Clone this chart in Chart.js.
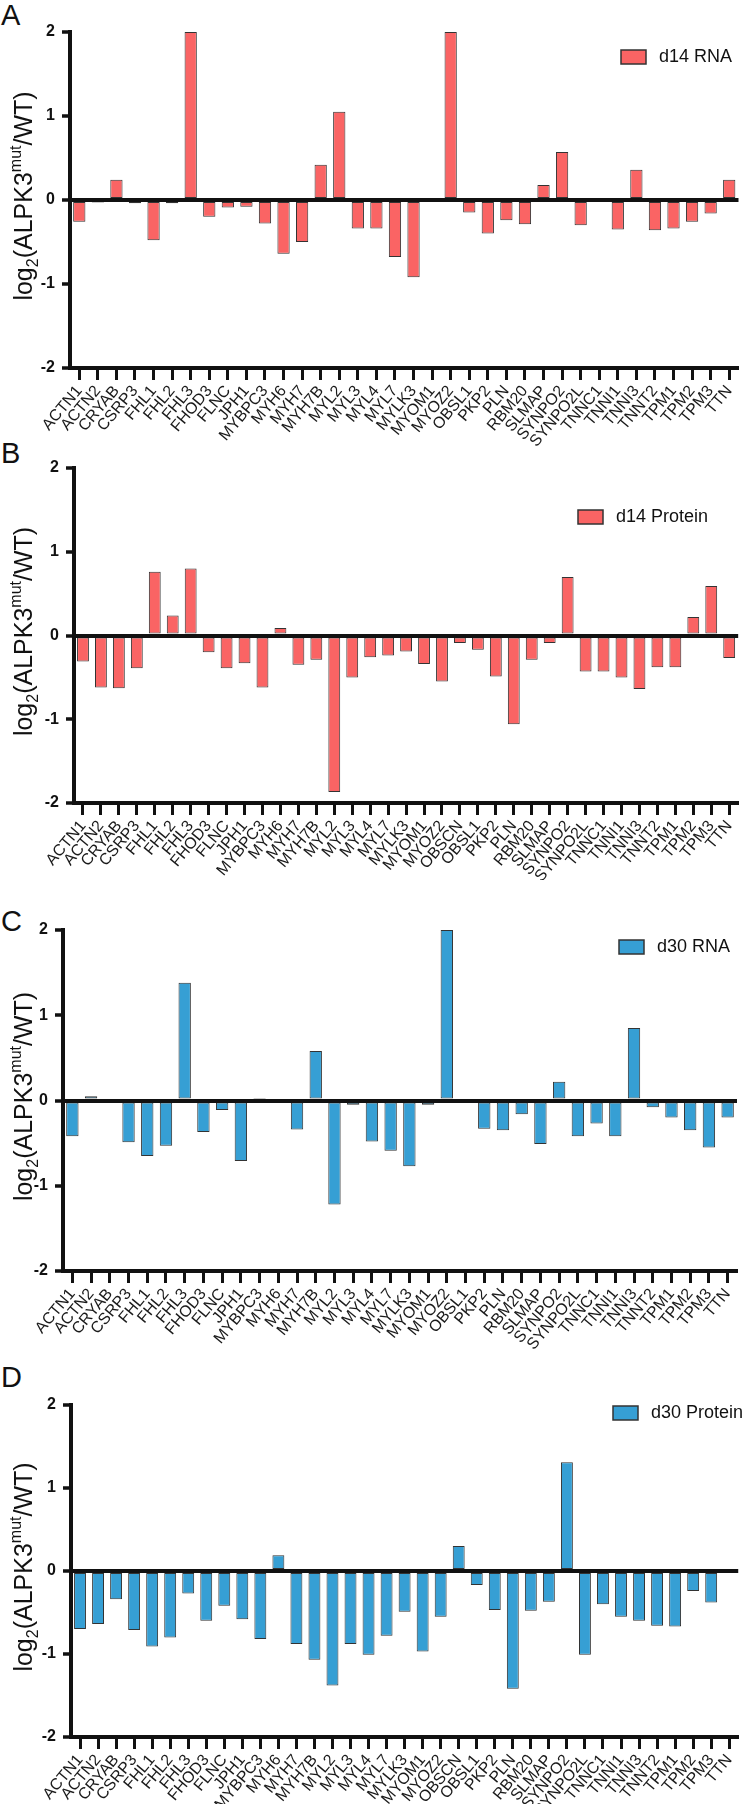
<!DOCTYPE html>
<html>
<head>
<meta charset="utf-8">
<script src="https://cdn.jsdelivr.net/npm/chart.js@4/dist/chart.umd.min.js"></script>
<style>
  body { margin: 0; background: #fff; width: 746px; height: 1804px; position: relative; overflow: hidden; font-family: "Liberation Sans", Arial, sans-serif; }
  canvas { position: absolute; left: 0; }
  .tag { position: absolute; left: 1px; font-size: 29px; line-height: 1; color: #111; }
</style>
</head>
<body>
<div class="tag" style="top:1px">A</div>
<div class="tag" style="top:439px">B</div>
<div class="tag" style="top:907px">C</div>
<div class="tag" style="top:1363px">D</div>
<canvas id="chartA" width="746" height="460" style="top:0px"></canvas>
<canvas id="chartB" width="746" height="440" style="top:440px"></canvas>
<canvas id="chartC" width="746" height="460" style="top:890px"></canvas>
<canvas id="chartD" width="746" height="434" style="top:1370px"></canvas>
<script>
// gene lists (RNA panels have no OBSCN)
const genesRna = ["ACTN1", "ACTN2", "CRYAB", "CSRP3", "FHL1", "FHL2", "FHL3", "FHOD3", "FLNC", "JPH1",
  "MYBPC3", "MYH6", "MYH7", "MYH7B", "MYL2", "MYL3", "MYL4", "MYL7", "MYLK3", "MYOM1", "MYOZ2",
  "OBSL1", "PKP2", "PLN", "RBM20", "SLMAP", "SYNPO2", "SYNPO2L", "TNNC1", "TNNI1", "TNNI3",
  "TNNT2", "TPM1", "TPM2", "TPM3", "TTN"];
const genesProtein = ["ACTN1", "ACTN2", "CRYAB", "CSRP3", "FHL1", "FHL2", "FHL3", "FHOD3", "FLNC", "JPH1",
  "MYBPC3", "MYH6", "MYH7", "MYH7B", "MYL2", "MYL3", "MYL4", "MYL7", "MYLK3", "MYOM1", "MYOZ2",
  "OBSCN", "OBSL1", "PKP2", "PLN", "RBM20", "SLMAP", "SYNPO2", "SYNPO2L", "TNNC1", "TNNI1", "TNNI3",
  "TNNT2", "TPM1", "TPM2", "TPM3", "TTN"];

const d14Rna = [-0.26, -0.03, 0.24, -0.04, -0.48, -0.04, 2, -0.20, -0.09, -0.08,
  -0.28, -0.64, -0.50, 0.42, 1.05, -0.34, -0.34, -0.68, -0.92, 0, 2,
  -0.15, -0.40, -0.24, -0.29, 0.18, 0.57, -0.30, 0, -0.35, 0.36,
  -0.36, -0.34, -0.26, -0.16, 0.24];
const d14Protein = [-0.31, -0.62, -0.63, -0.39, 0.76, 0.24, 0.80, -0.20, -0.39, -0.33,
  -0.62, 0.09, -0.35, -0.29, -1.87, -0.50, -0.26, -0.24, -0.19, -0.34, -0.55,
  -0.09, -0.17, -0.49, -1.06, -0.29, -0.09, 0.70, -0.43, -0.43, -0.50, -0.64,
  -0.38, -0.38, 0.22, 0.59, -0.27];
const d30Rna = [-0.42, 0.05, 0, -0.49, -0.65, -0.53, 1.38, -0.37, -0.11, -0.71,
  0.03, 0, -0.34, 0.58, -1.22, -0.05, -0.48, -0.59, -0.77, -0.05, 2,
  -0.03, -0.33, -0.35, -0.16, -0.51, 0.22, -0.42, -0.27, -0.42, 0.85,
  -0.08, -0.20, -0.35, -0.55, -0.20];
const d30Protein = [-0.70, -0.64, -0.34, -0.71, -0.91, -0.80, -0.27, -0.60, -0.42, -0.58,
  -0.82, 0.19, -0.88, -1.07, -1.38, -0.88, -1.01, -0.78, -0.49, -0.97, -0.55,
  0.30, -0.17, -0.47, -1.42, -0.48, -0.37, 1.31, -1.01, -0.40, -0.55, -0.60,
  -0.66, -0.67, -0.24, -0.38, -0.02];

const yMin = -2, yMax = 2;
const RED = "rgb(250,100,100)";
const BLUE = "rgb(54,159,212)";
const FONT = '"Liberation Sans", Arial, sans-serif';

// little legend box drawn inside the plot, like Prism does
const boxLegend = {
  id: "boxLegend",
  afterDraw(chart, args, opts) {
    const ctx = chart.ctx;
    const ds = chart.data.datasets[0];
    ctx.save();
    ctx.fillStyle = ds.backgroundColor;
    ctx.fillRect(opts.x, opts.y, 25, 14);
    ctx.strokeStyle = "#333";
    ctx.lineWidth = 1.5;
    ctx.strokeRect(opts.x, opts.y, 25, 14);
    ctx.fillStyle = "#111";
    ctx.font = "18px " + FONT;
    ctx.textBaseline = "middle";
    ctx.fillText(ds.label, opts.x + 38, opts.y + 7.5);
    ctx.restore();
  }
};

// y title with subscript 2 and superscript mut
const yTitle = {
  id: "yTitle",
  afterDraw(chart, args, opts) {
    const ctx = chart.ctx;
    const area = chart.chartArea;
    const parts = [
      { t: "log", s: 25, dy: 0 },
      { t: "2", s: 16, dy: 6 },
      { t: "(ALPK3", s: 25, dy: 0 },
      { t: "mut", s: 16, dy: -11 },
      { t: "/WT)", s: 25, dy: 0 }
    ];
    ctx.save();
    ctx.fillStyle = "#111";
    let total = 0;
    parts.forEach(p => {
      ctx.font = p.s + "px " + FONT;
      p.w = ctx.measureText(p.t).width;
      total += p.w;
    });
    ctx.translate(opts.x, (area.top + area.bottom) / 2 + opts.dy);
    ctx.rotate(-Math.PI / 2);
    let x = -total / 2;
    parts.forEach(p => {
      ctx.font = p.s + "px " + FONT;
      ctx.fillText(p.t, x, 8 + p.dy);
      x += p.w;
    });
    ctx.restore();
  }
};

function makeChart(id, labels, values, name, color, box) {
  const xHeight = box.canvasH - (box.bottom - box.canvasTop);
  return new Chart(document.getElementById(id), {
    type: "bar",
    data: {
      labels: labels,
      datasets: [{
        label: name,
        data: values,
        backgroundColor: color,
        borderColor: "#333",
        borderWidth: 1,
        borderSkipped: false,
        barPercentage: 0.66,
        categoryPercentage: 1
      }]
    },
    options: {
      responsive: false,
      animation: false,
      events: [],
      layout: {
        padding: { top: box.top - box.canvasTop, left: 0, right: 746 - box.right, bottom: 0 }
      },
      plugins: {
        legend: { display: false },
        tooltip: { enabled: false },
        boxLegend: { x: box.legendX, y: box.legendY - box.canvasTop },
        yTitle: { x: 24, dy: -4 }
      },
      scales: {
        x: {
          offset: true,
          grid: { offset: false, drawOnChartArea: false, tickLength: 12, tickWidth: 3, tickColor: "#111" },
          border: { color: "#111", width: 4 },
          ticks: {
            autoSkip: false, minRotation: 50, maxRotation: 50, padding: 2,
            color: "#1a1a1a", font: { family: FONT, size: 16 }
          },
          afterFit: s => { s.height = xHeight; }
        },
        y: {
          min: yMin,
          max: yMax,
          grid: {
            z: 1,
            color: c => c.tick && c.tick.value === 0 ? "#111" : "rgba(0,0,0,0)",
            lineWidth: 4,
            tickColor: "#111", tickLength: 8, tickWidth: 3.5
          },
          border: { color: "#111", width: 4, z: 1 },
          ticks: {
            stepSize: 1, padding: 7, color: "#111",
            font: { family: FONT, size: 16, weight: "bold" }
          },
          afterFit: s => { s.width = box.left; }
        }
      }
    },
    plugins: [boxLegend, yTitle]
  });
}

makeChart("chartA", genesRna, d14Rna, "d14 RNA", RED,
  { canvasTop: 0, canvasH: 460, top: 32, bottom: 368, left: 70, right: 741, legendX: 621, legendY: 50 });
makeChart("chartB", genesProtein, d14Protein, "d14 Protein", RED,
  { canvasTop: 440, canvasH: 440, top: 468, bottom: 803, left: 74, right: 739, legendX: 578, legendY: 510 });
makeChart("chartC", genesRna, d30Rna, "d30 RNA", BLUE,
  { canvasTop: 890, canvasH: 460, top: 930, bottom: 1271, left: 63, right: 737, legendX: 619, legendY: 940 });
makeChart("chartD", genesProtein, d30Protein, "d30 Protein", BLUE,
  { canvasTop: 1370, canvasH: 434, top: 1405, bottom: 1737, left: 71, right: 740, legendX: 613, legendY: 1406 });
</script>
</body>
</html>
